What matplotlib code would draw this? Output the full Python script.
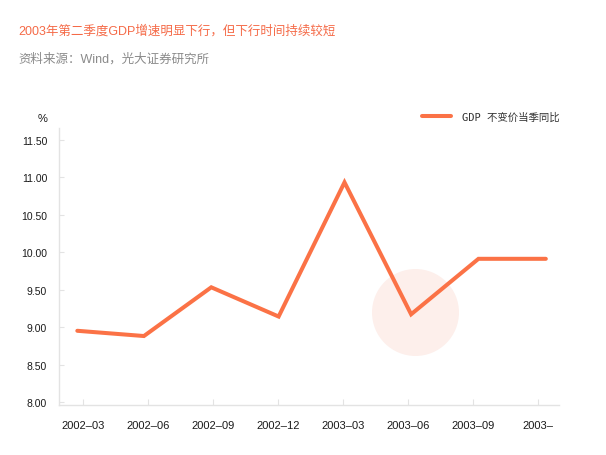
import matplotlib
matplotlib.use("Agg")
import matplotlib.pyplot as plt
import matplotlib.dates as mdates
import matplotlib.transforms as mtransforms
import numpy as np
import pandas as pd

# ---- data ----
dates = ["2002-03-31", "2002-06-30", "2002-09-30", "2002-12-31",
         "2003-03-31", "2003-06-30", "2003-09-30", "2003-12-31"]
gdp_yoy = [8.95, 8.88, 9.53, 9.14, 10.93, 9.17, 9.91, 9.91]
tick_labels = ["2002\u201303", "2002\u201306", "2002\u201309", "2002\u201312",
               "2003\u201303", "2003\u201306", "2003\u201309", "2003\u2013"]
y_ticks = [8.0, 8.5, 9.0, 9.5, 10.0, 10.5, 11.0, 11.5]
highlight_index = 5

title = "2003年第二季度GDP增速明显下行，但下行时间持续较短"
source = "资料来源：Wind，光大证券研究所"
series_name = "GDP 不变价当季同比"

LINE_COLOR = "#fb7246"
TITLE_COLOR = "#f56a47"
FAM = ["Liberation Sans", "Noto Sans CJK SC", "DejaVu Sans"]
plt.rcParams["font.family"] = FAM

W, H = 606, 456
fig = plt.figure(figsize=(W / 100, H / 100), dpi=100)
ax = fig.add_axes([59 / W, (H - 406) / H, 500 / W, 277 / H])

x = mdates.date2num(pd.to_datetime(dates).to_pydatetime())
x0 = x[0]

# highlight circle behind the line
off = mtransforms.ScaledTranslation(4 / 100, 2 / 100, fig.dpi_scale_trans)
r_pt = 43.5 * 72 / 100
ax.scatter([x[highlight_index]], [gdp_yoy[highlight_index]], s=(2 * r_pt) ** 2,
           color="#fdefeb", zorder=1, linewidths=0,
           transform=ax.transData + off)

ax.plot(x, gdp_yoy, color=LINE_COLOR, lw=2.9, solid_capstyle="round",
        solid_joinstyle="miter", zorder=3, label=series_name)

ax.set_xlim(x0 - 25, x0 + 658)
ax.set_ylim(7.96, 11.655)

tick_pos = x0 + 8.2 + 88.8 * np.arange(len(tick_labels))
ax.set_xticks(tick_pos)
ax.set_xticklabels(tick_labels)
ax.set_yticks(y_ticks)
ax.set_yticklabels([f"{v:.2f}" for v in y_ticks])

for s in ["top", "right"]:
    ax.spines[s].set_visible(False)
for s in ["left", "bottom"]:
    ax.spines[s].set_color("#e3e3e3")
    ax.spines[s].set_linewidth(1.0)

ax.tick_params(axis="x", direction="in", length=4.5, width=0.8, color="#e3e3e3",
               pad=11, labelsize=8, labelcolor="#1a1a1a")
ax.tick_params(axis="y", direction="in", length=3.6, width=0.8, color="#e3e3e3",
               pad=8.5, labelsize=7.5, labelcolor="#1a1a1a")

fig.text(18 / W, 1 - 31.7 / H, title, fontsize=9, color=TITLE_COLOR,
         ha="left", va="center")
fig.text(18 / W, 1 - 59.3 / H, source, fontsize=9, color="#8a8a8a",
         ha="left", va="center")
fig.text(42.7 / W, 1 - 119 / H, "%", fontsize=8, color="#1a1a1a",
         ha="center", va="center")

leg = fig.legend(loc="center right", bbox_to_anchor=(560 / W, 1 - 117.3 / H),
                 frameon=False, borderpad=0, borderaxespad=0,
                 handlelength=2.75, handletextpad=1.1,
                 prop={"family": ["DejaVu Sans Mono", "Noto Sans CJK SC"], "size": 7.5})
for t in leg.get_texts():
    t.set_color("#333333")

fig.savefig("out.png", dpi=100)
